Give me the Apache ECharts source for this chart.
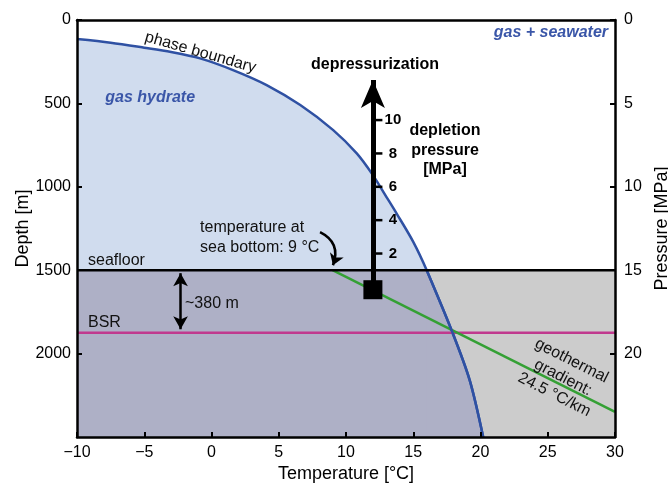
<!DOCTYPE html>
<html><head><meta charset="utf-8">
<script src="https://cdn.jsdelivr.net/npm/echarts@6/dist/echarts.min.js"></script>
<style>html,body{margin:0;padding:0;background:#fff}#c{width:668px;height:484px}</style>
</head><body><div id="c"></div>
<script>
// ---- data ----
const phaseTemp  = [-10, -7.5, -5, -3, -0.85, 1.6, 4.1, 6.6, 9.05, 10.8, 12.0, 13.0, 13.8, 15.0, 16.0, 17.9, 19.2, 20.2];
const phaseDepth = [114, 136, 166, 192, 230, 300, 390, 510, 660, 800, 930, 1060, 1165, 1330, 1500, 1870, 2160, 2500];
const seafloorDepth = 1500;
const bsrDepth = 1875;
const phaseTempAtSeafloor = 16.0;
const geoTemp  = [9, 30];
const geoDepth = [1500, 2350];
const depArrowTemp = 12;
const depArrowDepth = [1617, 360];
const depletionLabels = ['2', '4', '6', '8', '10'];
const depletionDepth  = [1400, 1200, 1000, 800, 600];
const gapArrowTemp = -2.3;
const gapArrowDepth = [1518, 1854];
const bottomArrowFrom = [8.07, 1272];
const bottomArrowTo   = [9.03, 1470];
const xRange = [-10, 30];
const depthRange = [0, 2500];
const pressureRange = [0, 25];

const FONT = 'Liberation Sans, Arial, sans-serif';
const BLUE = '#2f51a3';
const phaseData = phaseTemp.map((t, i) => [t, phaseDepth[i]]);
const phaseLower = phaseData.filter(p => p[1] >= seafloorDepth);

function txt(value, text, opt) {
  return { value: value, label: Object.assign({ show: true, formatter: text, position: 'inside',
    fontFamily: FONT, fontSize: 16, color: '#111' }, opt) };
}

const chart = echarts.init(document.getElementById('c'), null, { renderer: 'canvas' });
const axisLineStyle = { color: '#000', width: 2.5 };
chart.setOption({
  animation: false,
  backgroundColor: '#fff',
  grid: { left: 77, right: 53, top: 20, bottom: 47, outerBoundsMode: 'none', containLabel: false },
  xAxis: [{
    type: 'value', min: xRange[0], max: xRange[1], interval: 5, position: 'bottom', z: 10,
    axisLine: { show: true, onZero: false, lineStyle: axisLineStyle },
    axisTick: { show: true, inside: true, length: 5, lineStyle: { width: 2, color: '#000' } },
    axisLabel: { fontFamily: FONT, fontSize: 16, color: '#000', margin: 8,
      formatter: v => v < 0 ? '\u2212' + Math.abs(v) : String(v) },
    splitLine: { show: false },
    name: 'Temperature [\u00b0C]', nameLocation: 'middle', nameGap: 28, nameMoveOverlap: false,
    nameTextStyle: { fontFamily: FONT, fontSize: 18, color: '#000' }
  }, {
    type: 'value', min: xRange[0], max: xRange[1], position: 'top', z: 10,
    axisLine: { show: true, onZero: false, lineStyle: axisLineStyle },
    axisTick: { show: false }, axisLabel: { show: false }, splitLine: { show: false }
  }],
  yAxis: [{
    type: 'value', inverse: true, min: depthRange[0], max: depthRange[1], interval: 500, position: 'left', z: 10,
    axisLine: { show: true, onZero: false, lineStyle: axisLineStyle },
    axisTick: { show: true, inside: true, length: 5, lineStyle: { width: 2, color: '#000' } },
    axisLabel: { fontFamily: FONT, fontSize: 16, color: '#000', margin: 6, showMaxLabel: false,
      formatter: v => String(v) },
    splitLine: { show: false },
    name: 'Depth [m]', nameLocation: 'middle', nameGap: 45, nameRotate: 90, nameMoveOverlap: false,
    nameTextStyle: { fontFamily: FONT, fontSize: 18, color: '#000' }
  }, {
    type: 'value', inverse: true, min: pressureRange[0], max: pressureRange[1], interval: 5, position: 'right', z: 10,
    axisLine: { show: true, onZero: false, lineStyle: axisLineStyle },
    axisTick: { show: true, inside: true, length: 5, lineStyle: { width: 2, color: '#000' } },
    axisLabel: { fontFamily: FONT, fontSize: 16, color: '#000', margin: 9, showMaxLabel: false,
      formatter: v => String(v) },
    splitLine: { show: false },
    name: 'Pressure [MPa]', nameLocation: 'middle', nameGap: 36, nameRotate: 90,
    nameTextStyle: { fontFamily: FONT, fontSize: 18, color: '#000' }
  }],
  series: [
    { // hydrate stability field (above seafloor colour)
      type: 'line', z: 1, data: phaseData, smooth: 0.3, showSymbol: false, symbol: 'none',
      lineStyle: { color: BLUE, width: 2.5 },
      areaStyle: { color: '#d0dcee', opacity: 1, origin: 'end' }, silent: true
    },
    { // sediment zones below the seafloor
      type: 'line', z: 2, data: [], silent: true,
      markArea: { silent: true, z: 2, data: [
        [{ coord: [xRange[0], seafloorDepth], itemStyle: { color: '#cccccc', opacity: 1 } }, { coord: [xRange[1], depthRange[1]] }],
        [{ coord: [xRange[0], seafloorDepth], itemStyle: { color: '#aeb0c6', opacity: 1 } }, { coord: [phaseTempAtSeafloor + 0.08, depthRange[1]] }]
      ] }
    },
    { // hydrate field below seafloor
      type: 'line', z: 3, data: phaseLower, smooth: 0.3, showSymbol: false, symbol: 'none',
      lineStyle: { color: BLUE, width: 2.5 },
      areaStyle: { color: '#aeb0c6', opacity: 1, origin: 'end' }, silent: true
    },
    { // BSR
      type: 'line', z: 4, data: [[xRange[0], bsrDepth], [xRange[1], bsrDepth]], symbol: 'none',
      lineStyle: { color: '#c0398e', width: 2.5 }, silent: true
    },
    { // geothermal gradient
      type: 'line', z: 5, data: geoTemp.map((t, i) => [t, geoDepth[i]]), symbol: 'none',
      lineStyle: { color: '#34a034', width: 2.5 }, silent: true
    },
    { // re-stroke phase boundary on top of lines
      type: 'line', z: 5, data: phaseLower, smooth: 0.3, symbol: 'none',
      lineStyle: { color: BLUE, width: 2.5 }, silent: true
    },
    { // seafloor
      type: 'line', z: 6, data: [[xRange[0], seafloorDepth], [xRange[1], seafloorDepth]], symbol: 'none',
      lineStyle: { color: '#000', width: 2.5 }, silent: true
    },
    { // straight arrows
      type: 'line', z: 7, data: [], silent: true,
      markLine: { silent: true, z: 7, animation: false, label: { show: false },
        lineStyle: { color: '#000', type: 'solid' },
        data: [
          [{ coord: [depArrowTemp, depArrowDepth[0]], symbol: 'none', lineStyle: { color: '#000', width: 5, type: 'solid' } },
           { coord: [depArrowTemp, depArrowDepth[1]], symbol: 'arrow', symbolSize: [18, 28] }],
          [{ coord: [gapArrowTemp, gapArrowDepth[0]], symbol: 'arrow', symbolSize: [11, 13], lineStyle: { color: '#000', width: 2.5, type: 'solid' } },
           { coord: [gapArrowTemp, gapArrowDepth[1]], symbol: 'arrow', symbolSize: [11, 13] }]
        ] }
    },
    { // curved arrow (sea-bottom temperature)
      type: 'lines', coordinateSystem: 'cartesian2d', z: 7, silent: true, animation: false,
      symbol: ['none', 'arrow'], symbolSize: 11,
      lineStyle: { color: '#000', width: 2.5, type: 'solid', curveness: 0.45, opacity: 1 },
      data: [{ coords: [bottomArrowFrom, bottomArrowTo] }]
    },
    { // square at base of depressurization arrow
      type: 'scatter', z: 8, data: [[depArrowTemp, depArrowDepth[0]]], symbol: 'rect', symbolSize: 19,
      itemStyle: { color: '#000', opacity: 1 }, silent: true
    },
    { // depletion pressure scale
      type: 'scatter', z: 8, silent: true, symbol: 'rect', symbolSize: [7, 2.5], symbolOffset: [6, 0],
      itemStyle: { color: '#000', opacity: 1 },
      data: depletionDepth.map((d, i) => ({ value: [depArrowTemp, d], name: depletionLabels[i] })),
      label: { show: true, position: 'inside', offset: [14, 0], formatter: p => p.name,
        fontFamily: FONT, fontSize: 15, fontWeight: 'bold', color: '#000' }
    },
    { // annotation texts
      type: 'scatter', z: 9, silent: true, symbolSize: 0, itemStyle: { color: 'transparent', opacity: 1 },
      data: [
        txt([-0.82, 195], 'phase boundary', { rotate: -16 }),
        txt([-7.9, 468], 'gas hydrate', { align: 'left', fontWeight: 'bold', fontStyle: 'italic', color: '#3a56a8' }),
        txt([29.48, 78], 'gas + seawater', { align: 'right', fontWeight: 'bold', fontStyle: 'italic', color: '#3a56a8' }),
        txt([12.16, 270], 'depressurization', { fontWeight: 'bold', color: '#000' }),
        txt([17.36, 780], 'depletion\npressure\n[MPa]', { fontWeight: 'bold', color: '#000', lineHeight: 19.5, align: 'center' }),
        txt([-0.85, 1302], 'temperature at\nsea bottom: 9 \u00b0C', { align: 'left', lineHeight: 20 }),
        txt([-9.18, 1440], 'seafloor', { align: 'left' }),
        txt([-9.18, 1812], 'BSR', { align: 'left' }),
        txt([-1.97, 1698], '~380 m', { align: 'left' }),
        txt([26.13, 2145], 'geothermal\ngradient:\n24.5 \u00b0C/km', { rotate: -27, lineHeight: 19, align: 'center' })
      ]
    }
  ]
});
</script></body></html>
